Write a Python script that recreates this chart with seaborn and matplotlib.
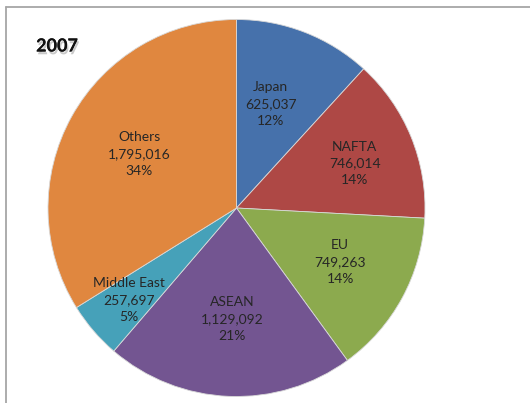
import numpy as np
import matplotlib
matplotlib.use("Agg")
import matplotlib.pyplot as plt
import matplotlib.patheffects as pe
from matplotlib.lines import Line2D
import seaborn as sns

# Export share by destination region, 2007
regions = ["Japan", "NAFTA", "EU", "ASEAN", "Middle East", "Others"]
values = [625037, 746014, 749263, 1129092, 257697, 1795016]
percent_labels = ["12%", "14%", "14%", "21%", "5%", "34%"]
title_text = "2007"

sns.set_theme(style="white")
plt.rcParams["font.family"] = ["Lato", "DejaVu Sans"]

colors = ["#4671AB", "#AE4845", "#8CAA4E", "#735591", "#46A1B9", "#E0873F"]

W, H = 530, 403
fig = plt.figure(figsize=(W / 100, H / 100), dpi=100)
fig.patch.set_facecolor("white")
ax = fig.add_axes([0, 0, 1, 1])

cx, cy, r = 236.5, H - 208, 188.5
wedges, _ = ax.pie(values, colors=colors, startangle=90, counterclock=False,
                   center=(cx, cy), radius=r, frame=True,
                   wedgeprops=dict(linewidth=0.6, edgecolor="#d8d8d8"))
ax.set_xlim(0, W)
ax.set_ylim(0, H)
ax.set_axis_off()

# label radius as a fraction of the pie radius, and angular nudge, per slice
label_dist = [0.58, 0.67, 0.62, 0.59, 0.75, 0.59]
label_turn = [-3, 1.5, -1, 0, 0, 0]
for w, name, v, p, d, t in zip(wedges, regions, values, percent_labels,
                               label_dist, label_turn):
    ang = np.deg2rad((w.theta1 + w.theta2) / 2 - t)
    x = cx + d * r * np.cos(ang)
    y = cy + d * r * np.sin(ang)
    ax.text(x, y, f"{name}\n{v:,}\n{p}", ha="center", va="center",
            fontsize=10, color="#262626", linespacing=1.47)

ax.text(57, H - 46, title_text, ha="center", va="center", fontsize=13,
        fontweight="bold", color="#111111",
        path_effects=[pe.withSimplePatchShadow(offset=(1, -2),
                                               shadow_rgbFace="#888888",
                                               alpha=0.45),
                      pe.Normal()])

# chart-area frame (top and left edges)
fig.add_artist(Line2D([6 / W, 1], [1 - 7 / H, 1 - 7 / H],
                      transform=fig.transFigure, color="#a6a6a6", lw=1.3))
fig.add_artist(Line2D([6 / W, 6 / W], [0, 1 - 7 / H],
                      transform=fig.transFigure, color="#a6a6a6", lw=1.3))

fig.savefig("out.png", dpi=100, facecolor="white")
